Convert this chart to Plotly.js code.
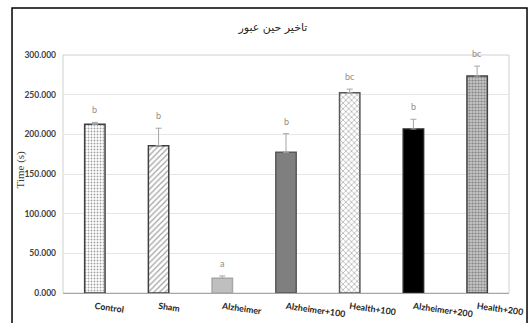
<!DOCTYPE html>
<html>
<head>
<meta charset="utf-8">
<script src="https://cdn.plot.ly/plotly-3.0.1.min.js"></script>
<style>
  html, body { margin: 0; padding: 0; background: #fff; }
  #chart { width: 532px; height: 323px; }
</style>
</head>
<body>
<div id="chart"></div>
<script>
// Groups, mean crossing time and standard deviation (upper bar only)
const groups = ["Control", "Sham", "Alzheimer", "Alzheimer+100", "Health+100", "Alzheimer+200", "Health+200"];
const meanTime = [212.6, 185.7, 18.5, 177.4, 252.5, 206.7, 273.5];
const sdTime = [2.5, 22.0, 3.0, 23.4, 4.5, 12.3, 12.5];
const letters = ["b", "b", "a", "b", "bc", "b", "bc"];
const yTicks = [0, 50, 100, 150, 200, 250, 300];

// Fill style of each bar
const fillBg = ["#ffffff", "#ffffff", "#bfbfbf", "#7f7f7f", "#ffffff", "#000000", "#c4c4c4"];
const fillFg = ["#d9d9d9", "#404040", "#bfbfbf", "#7f7f7f", "#9a9a9a", "#000000", "#9e9e9e"];
const fillShape = [".", "/", "", "", "x", "", "."];
const fillSize = [3, 4, 6, 6, 4, 6, 3];
const fillSolidity = [0.3, 0.3, 0.5, 0.5, 0.3, 0.5, 0.4];
const edgeColor = ["#404040", "#404040", "#a6a6a6", "#595959", "#595959", "#262626", "#404040"];

const bars = {
  type: "bar",
  x: groups,
  y: meanTime,
  width: 0.32,
  marker: {
    color: fillBg,
    line: { color: edgeColor, width: 1.5 },
    pattern: { shape: fillShape, fgcolor: fillFg, size: fillSize, solidity: fillSolidity, fillmode: "overlay" }
  },
  error_y: {
    type: "data",
    symmetric: false,
    array: sdTime,
    arrayminus: sdTime.map(() => 0),
    color: "#a6a6a6",
    thickness: 1,
    width: 3
  },
  hoverinfo: "skip",
  showlegend: false
};

// Significance letters just above each error bar
const letterNotes = groups.map((g, i) => ({
  x: g,
  y: meanTime[i] + sdTime[i],
  xref: "x",
  yref: "y",
  text: letters[i],
  showarrow: false,
  yanchor: "bottom",
  yshift: 5,
  font: { family: "Lato, 'Liberation Sans', sans-serif", size: 9, color: "#8c8c8c" }
}));

const layout = {
  width: 532,
  height: 323,
  margin: { l: 63, r: 23, t: 55, b: 30 },
  paper_bgcolor: "#ffffff",
  plot_bgcolor: "#ffffff",
  title: {
    text: "تاخیر حین عبور",
    x: 0.513,
    xanchor: "center",
    y: 0.915,
    yanchor: "middle",
    font: { family: "'DejaVu Sans', serif", size: 11, color: "#262626" }
  },
  xaxis: {
    type: "category",
    range: [-0.5, 6.5],
    showgrid: false,
    showline: false,
    zeroline: false,
    ticks: "",
    tickangle: 8,
    ticklabelstandoff: 6,
    tickfont: { family: "Lato, 'Liberation Sans', sans-serif", size: 8.8, color: "#262626", weight: "bold" },
    fixedrange: true
  },
  yaxis: {
    range: [0, 300],
    tickvals: yTicks,
    tickformat: ".3f",
    showgrid: true,
    gridcolor: "#e6e6e6",
    gridwidth: 1,
    zeroline: true,
    zerolinecolor: "#a6a6a6",
    zerolinewidth: 1,
    showline: false,
    ticks: "",
    ticklabelstandoff: 6,
    tickfont: { family: "Lato, 'Liberation Sans', sans-serif", size: 8.5, color: "#404040", weight: "bold" },
    automargin: false,
    fixedrange: true
  },
  annotations: [
    {
      text: "Time (s)",
      xref: "paper",
      yref: "paper",
      x: -0.096,
      y: 0.52,
      xanchor: "center",
      yanchor: "middle",
      textangle: -90,
      showarrow: false,
      font: { family: "'Liberation Serif', 'Times New Roman', serif", size: 11, color: "#404040" }
    }
  ].concat(letterNotes),
  shapes: [
    // plot area frame
    { type: "rect", xref: "paper", yref: "paper", x0: 0, x1: 1, y0: 0, y1: 1,
      line: { color: "#d0d0d0", width: 1 }, fillcolor: "rgba(0,0,0,0)", layer: "below" },
    // outer chart border
    { type: "rect", xref: "paper", yref: "paper", x0: -0.1143, x1: 1.0404, y0: -0.2, y1: 1.1975,
      line: { color: "#000000", width: 1.5 }, fillcolor: "rgba(0,0,0,0)" }
  ]
};

Plotly.newPlot("chart", [bars], layout, { displayModeBar: false, staticPlot: true });
</script>
</body>
</html>
